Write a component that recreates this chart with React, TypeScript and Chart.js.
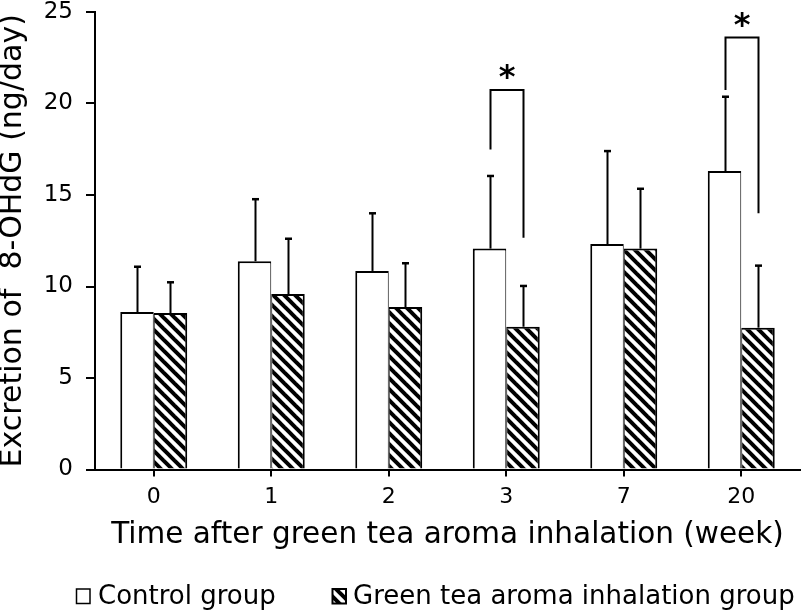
import React, { useEffect, useRef } from "react";
import { Chart, registerables } from "chart.js";

Chart.register(...registerables);

// ---- data ----
const weeks = ["0", "1", "2", "3", "7", "20"];
const controlMean = [8.6, 11.38, 10.85, 12.07, 12.32, 16.31];
const controlSD = [2.48, 3.39, 3.15, 3.97, 5.08, 4.06];
const greenMean = [8.55, 9.59, 8.88, 7.8, 12.07, 7.75];
const greenSD = [1.68, 3.02, 2.39, 2.23, 3.27, 3.39];
const seriesLabels = ["Control group", "Green tea aroma inhalation group"];
const yTicks = [0, 5, 10, 15, 20, 25];
const xTitle = "Time after green tea aroma inhalation (week)";
const yTitle = "Excretion of  8-OHdG (ng/day)";
// significance brackets
const sigIndex = [3, 5];
const sigTop = [20.74, 23.6];
const sigLeftEnd = [17.48, 20.74];
const sigRightEnd = [12.67, 14.0];
const sigMark = ["*", "*"];

const FONT = "'DejaVu Sans', Verdana, sans-serif";

function makeHatch(ctx: CanvasRenderingContext2D): CanvasPattern | string {
  const T = 11;
  const c = document.createElement("canvas");
  c.width = T;
  c.height = T;
  const g = c.getContext("2d")!;
  g.fillStyle = "#fff";
  g.fillRect(0, 0, T, T);
  g.strokeStyle = "#000";
  g.lineWidth = 4;
  for (const k of [-1, 0, 1]) {
    g.beginPath();
    g.moveTo(-2, k * T - 2);
    g.lineTo(T + 2, T + k * T + 2);
    g.stroke();
  }
  return ctx.createPattern(c, "repeat") || "#888";
}

export default function App() {
  const ref = useRef<HTMLCanvasElement | null>(null);

  useEffect(() => {
    const canvas = ref.current!;
    const ctx0 = canvas.getContext("2d")!;
    const hatch = makeHatch(ctx0);
    Chart.defaults.font.family = FONT;
    Chart.defaults.color = "#000";

    const errorBars = {
      id: "errorBars",
      afterDatasetsDraw(chart: any) {
        const ctx = chart.ctx;
        const ys = chart.scales.y;
        const means = [controlMean, greenMean];
        const sds = [controlSD, greenSD];
        ctx.save();
        ctx.strokeStyle = "#000";
        chart.data.datasets.forEach((_: any, i: number) => {
          const meta = chart.getDatasetMeta(i);
          meta.data.forEach((el: any, j: number) => {
            const x = Math.round(el.x) + 0.5;
            const yTop = ys.getPixelForValue(means[i][j] + sds[i][j]);
            ctx.lineWidth = 2;
            ctx.beginPath();
            ctx.moveTo(x, el.y);
            ctx.lineTo(x, yTop);
            ctx.stroke();
            ctx.lineWidth = 2.5;
            ctx.beginPath();
            ctx.moveTo(x - 3.5, yTop);
            ctx.lineTo(x + 3.5, yTop);
            ctx.stroke();
          });
        });
        ctx.restore();
      },
    };

    const brackets = {
      id: "brackets",
      afterDatasetsDraw(chart: any) {
        const ctx = chart.ctx;
        const ys = chart.scales.y;
        const m0 = chart.getDatasetMeta(0);
        const m1 = chart.getDatasetMeta(1);
        ctx.save();
        ctx.strokeStyle = "#000";
        ctx.lineWidth = 2;
        ctx.lineJoin = "miter";
        sigIndex.forEach((idx, k) => {
          const xl = Math.round(m0.data[idx].x) + 0.5;
          const xr = Math.round(m1.data[idx].x) + 0.5;
          const yt = ys.getPixelForValue(sigTop[k]);
          ctx.beginPath();
          ctx.moveTo(xl, ys.getPixelForValue(sigLeftEnd[k]));
          ctx.lineTo(xl, yt);
          ctx.lineTo(xr, yt);
          ctx.lineTo(xr, ys.getPixelForValue(sigRightEnd[k]));
          ctx.stroke();
          ctx.fillStyle = "#000";
          ctx.font = `bold 32px ${FONT}`;
          ctx.textAlign = "center";
          ctx.textBaseline = "alphabetic";
          ctx.fillText(sigMark[k], (xl + xr) / 2, yt - 3);
        });
        ctx.restore();
      },
    };

    const customLegend = {
      id: "customLegend",
      afterDraw(chart: any) {
        const ctx = chart.ctx;
        const cy = 596;
        const items = [
          { box: 76, text: 98, fill: "#fff" as any },
          { box: 332, text: 353, fill: hatch as any },
        ];
        ctx.save();
        items.forEach((it, i) => {
          ctx.fillStyle = it.fill;
          ctx.fillRect(it.box, cy - 7.5, 14, 15);
          ctx.strokeStyle = "#000";
          ctx.lineWidth = i === 0 ? 1.5 : 2;
          ctx.strokeRect(it.box + 0.5, cy - 7, 13.5, 14.5);
          ctx.fillStyle = "#000";
          ctx.font = `26px ${FONT}`;
          ctx.textAlign = "left";
          ctx.textBaseline = "middle";
          ctx.fillText(seriesLabels[i], it.text, cy + 1);
        });
        ctx.restore();
      },
    };

    const chart = new Chart(canvas, {
      type: "bar",
      data: {
        labels: weeks,
        datasets: [
          {
            label: seriesLabels[0],
            data: controlMean,
            backgroundColor: "#fff",
            borderColor: "#000",
            borderWidth: { top: 2, left: 2, right: 1, bottom: 0 } as any,
            borderSkipped: false,
            categoryPercentage: 0.57,
            barPercentage: 1,
          },
          {
            label: seriesLabels[1],
            data: greenMean,
            backgroundColor: hatch as any,
            borderColor: "#000",
            borderWidth: { top: 2, left: 1, right: 2, bottom: 0 } as any,
            borderSkipped: false,
            categoryPercentage: 0.57,
            barPercentage: 1,
          },
        ],
      },
      options: {
        animation: false,
        responsive: true,
        maintainAspectRatio: false,
        events: [],
        layout: { padding: { left: 0, right: 2, top: 0, bottom: 57.5 } },
        plugins: {
          legend: { display: false },
          tooltip: { enabled: false },
        },
        scales: {
          x: {
            grid: {
              display: true,
              drawOnChartArea: false,
              drawTicks: true,
              tickLength: 7,
              color: "#000",
              lineWidth: 2,
              offset: false,
            },
            border: { display: true, color: "#000", width: 2 },
            ticks: { color: "#000", font: { size: 22, family: FONT }, padding: 8 },
            title: {
              display: true,
              text: xTitle,
              color: "#000",
              font: { size: 29.5, family: FONT },
              padding: { top: 0, bottom: 0 },
            },
            afterFit(scale: any) {
              scale.height = 84;
            },
          },
          y: {
            min: yTicks[0],
            max: yTicks[yTicks.length - 1],
            afterBuildTicks(scale: any) {
              scale.ticks = yTicks.map((v) => ({ value: v }));
            },
            grid: {
              display: true,
              drawOnChartArea: false,
              drawTicks: true,
              tickLength: 9,
              color: "#000",
              lineWidth: 2,
            },
            border: { display: true, color: "#000", width: 2 },
            ticks: {
              color: "#000",
              font: { size: 23, family: FONT, lineHeight: 1 },
              padding: 13,
            },
            title: {
              display: true,
              text: yTitle,
              color: "#000",
              font: { size: 30, family: FONT },
              padding: { top: -5, bottom: 0 },
            },
            afterFit(scale: any) {
              scale.width = 95;
              scale.paddingTop = 12;
              scale.paddingBottom = 0;
            },
          },
        },
      },
      plugins: [errorBars, brackets, customLegend],
    });
    return () => chart.destroy();
  }, []);

  return (
    <div style={{ position: "fixed", left: 0, top: 0, width: 802, height: 611, background: "#fff" }}>
      <canvas ref={ref} />
    </div>
  );
}
